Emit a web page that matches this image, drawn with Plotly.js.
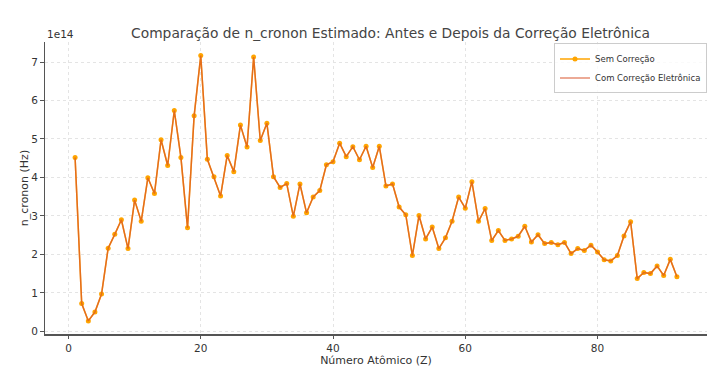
<!DOCTYPE html>
<html>
<head>
<meta charset="utf-8">
<script src="https://cdn.plot.ly/plotly-3.0.1.min.js"></script>
<style>html,body{margin:0;padding:0;background:#fff;}#chart{width:726px;height:370px;}</style>
</head>
<body>
<div id="chart"></div>
<script>
// Atomic numbers
const atomicNumbers = [];
for (let z = 1; z <= 92; z++) atomicNumbers.push(z);

// n_cronon estimated (units of 1e14 Hz), without correction
const nCrononSem = [
  4.52, 0.72, 0.27, 0.50, 0.97, 2.16, 2.52, 2.90, 2.15, 3.41,
  2.86, 3.99, 3.58, 4.98, 4.31, 5.74, 4.52, 2.69, 5.60, 7.17,
  4.47, 4.02, 3.52, 4.57, 4.15, 5.36, 4.79, 7.13, 4.96, 5.41,
  4.02, 3.74, 3.84, 2.99, 3.83, 3.08, 3.49, 3.66, 4.33, 4.41,
  4.89, 4.54, 4.80, 4.46, 4.81, 4.26, 4.81, 3.78, 3.83, 3.23,
  3.03, 1.97, 3.01, 2.40, 2.71, 2.15, 2.43, 2.86, 3.49, 3.20,
  3.89, 2.86, 3.19, 2.36, 2.62, 2.36, 2.40, 2.47, 2.73, 2.32,
  2.51, 2.28, 2.31, 2.25, 2.31, 2.02, 2.15, 2.10, 2.24, 2.06,
  1.86, 1.83, 1.97, 2.48, 2.85, 1.37, 1.53, 1.50, 1.70, 1.45,
  1.87, 1.42
];
// with electronic correction (practically identical)
const nCrononCom = nCrononSem.slice();

const scale = 1e14;
const yTickValues = [0, 1, 2, 3, 4, 5, 6, 7];
const xTickValues = [0, 20, 40, 60, 80];

const ySem = nCrononSem.map(v => v * scale);
const yCom = nCrononCom.map(v => v * scale);

const font = "DejaVu Sans, sans-serif";

const traces = [
  {
    x: atomicNumbers, y: ySem, name: "Sem Correção", type: "scatter",
    mode: "lines+markers",
    line: {color: "#FFA500", width: 1.5},
    marker: {color: "#FFA500", size: 5}
  },
  {
    x: atomicNumbers, y: yCom, name: "Com Correção Eletrônica", type: "scatter",
    mode: "lines",
    line: {color: "rgba(215,80,40,0.65)", width: 1.5}
  }
];

const layout = {
  width: 726, height: 370,
  margin: {l: 45, r: 19, t: 42, b: 36},
  paper_bgcolor: "#fff", plot_bgcolor: "#fff",
  font: {family: font, size: 10.5, color: "#333"},
  title: {text: "Comparação de n_cronon Estimado: Antes e Depois da Correção Eletrônica",
          font: {family: font, size: 13.8, color: "#444"}, x: 0.538, xanchor: "center", y: 0.91, yanchor: "middle"},
  xaxis: {
    range: [-3.55, 96.55], tickvals: xTickValues, ticks: "outside", ticklen: 3.5, tickcolor: "#555",
    showline: true, linecolor: "#555", linewidth: 1.5, zeroline: false,
    showgrid: true, gridcolor: "#e4e4e4", griddash: "dot", gridwidth: 1,
    title: {text: "Número Atômico (Z)", font: {family: font, size: 11, color: "#333"}, standoff: 1}
  },
  yaxis: {
    range: [-0.07 * scale, 7.52 * scale], tickvals: yTickValues.map(v => v * scale),
    ticktext: yTickValues.map(String), ticks: "outside", ticklen: 3.5, tickcolor: "#555",
    showline: true, linecolor: "#555", linewidth: 1.5, zeroline: false,
    showgrid: true, gridcolor: "#e4e4e4", griddash: "dot", gridwidth: 1,
    title: {text: "n_cronon (Hz)", font: {family: font, size: 11, color: "#333"}, standoff: 0}
  },
  legend: {
    x: 1, xanchor: "right", y: 0.995, yanchor: "top",
    bgcolor: "rgba(255,255,255,0.8)", bordercolor: "#ccc", borderwidth: 1,
    font: {family: font, size: 8.5, color: "#333"}, tracegroupgap: 0, itemwidth: 30
  },
  annotations: [{
    text: "1e14", xref: "paper", yref: "paper", x: 0, y: 1, xanchor: "left", yanchor: "bottom",
    showarrow: false, font: {family: font, size: 10.5, color: "#333"}, yshift: 0
  }],
  showlegend: true
};

Plotly.newPlot("chart", traces, layout, {displayModeBar: false, staticPlot: true});
</script>
</body>
</html>
